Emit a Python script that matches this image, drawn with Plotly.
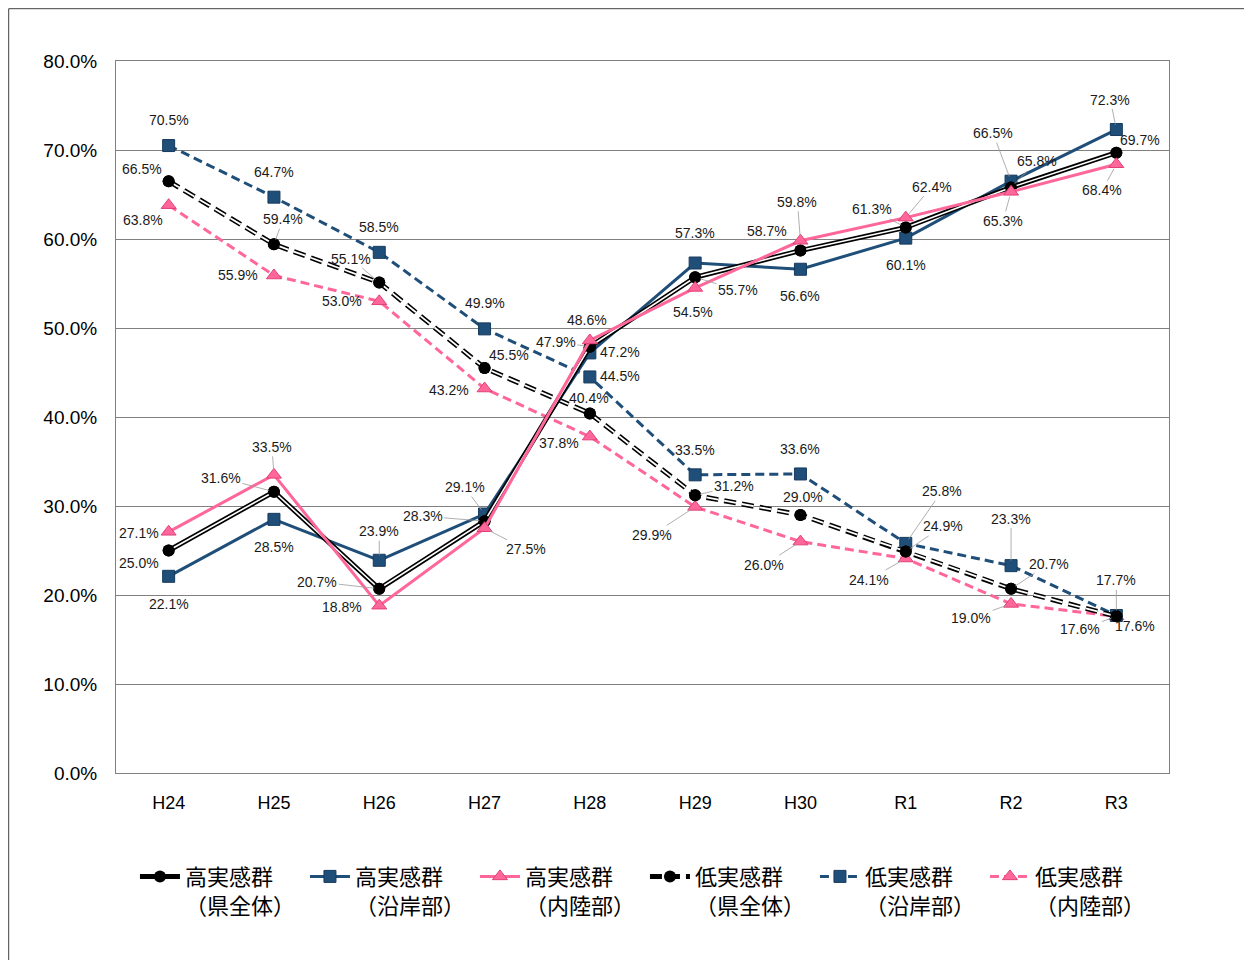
import plotly.graph_objects as go

categories = ["H24", "H25", "H26", "H27", "H28", "H29", "H30", "R1", "R2", "R3"]

high_pref = [25.0, 31.6, 20.7, 28.3, 47.9, 55.7, 58.7, 61.3, 65.8, 69.7]
high_coast = [22.1, 28.5, 23.9, 29.1, 47.2, 57.3, 56.6, 60.1, 66.5, 72.3]
high_inland = [27.1, 33.5, 18.8, 27.5, 48.6, 54.5, 59.8, 62.4, 65.3, 68.4]
low_pref = [66.5, 59.4, 55.1, 45.5, 40.4, 31.2, 29.0, 24.9, 20.7, 17.6]
low_coast = [70.5, 64.7, 58.5, 49.9, 44.5, 33.5, 33.6, 25.8, 23.3, 17.7]
low_inland = [63.8, 55.9, 53.0, 43.2, 37.8, 29.9, 26.0, 24.1, 19.0, 17.6]

names = ["高実感群<br>（県全体）", "高実感群<br>（沿岸部）", "高実感群<br>（内陸部）",
         "低実感群<br>（県全体）", "低実感群<br>（沿岸部）", "低実感群<br>（内陸部）"]

# label offsets (px) and leader-line flags — styling only
off_high_pref = [(-30, 12), (-53, -14), (-62, -7), (-62, -5), (-34, -5), (43, 13), (-33, -20), (-34, -18), (26, -26), (24, -13)]
lead_high_pref = [0, 1, 1, 1, 1, 1, 0, 1, 1, 0]
off_high_coast = [(0, 28), (0, 28), (0, -29), (-20, -27), (30, -1), (0, -30), (0, 27), (0, 27), (-18, -48), (-6, -30)]
lead_high_coast = [0, 0, 1, 1, 0, 0, 0, 0, 1, 1]
off_high_inland = [(-30, 1), (-2, -28), (-37, 1), (41, 21), (-3, -20), (-2, 24), (-3, -39), (26, -31), (-8, 29), (-14, 26)]
lead_high_inland = [0, 1, 0, 1, 0, 0, 1, 1, 1, 1]
off_low_pref = [(-27, -12), (9, -25), (-28, -24), (24, -13), (-1, -15), (39, -9), (3, -18), (37, -25), (38, -25), (19, 10)]
lead_low_pref = [0, 1, 1, 0, 0, 1, 0, 1, 1, 1]
off_low_coast = [(0, -26), (0, -25), (0, -25), (0, -26), (30, -1), (0, -25), (0, -25), (36, -52), (0, -47), (0, -35)]
lead_low_coast = [0, 0, 0, 0, 0, 0, 0, 1, 1, 1]
off_low_inland = [(-26, 15), (-36, 0), (-37, 0), (-36, 1), (-31, 6), (-43, 28), (-36, 23), (-37, 21), (-40, 14), (-36, 13)]
lead_low_inland = [0, 0, 0, 0, 0, 1, 1, 1, 1, 1]

NAVY = "#1F4E79"
PINK = "#FF6699"
FONT = "Liberation Sans, Arial, Noto Sans CJK JP, sans-serif"

fig = go.Figure()

# Low series (dashed)
fig.add_trace(go.Scatter(x=categories, y=low_inland, name=names[5], mode="lines+markers",
                         line=dict(color=PINK, width=3, dash="9px,5px"),
                         marker=dict(symbol="triangle-up", size=13, color=PINK, line=dict(color="#E0407A", width=1)),
                         legendrank=6))
fig.add_trace(go.Scatter(x=categories, y=low_coast, name=names[4], mode="lines+markers",
                         line=dict(color=NAVY, width=3, dash="9px,5px"),
                         marker=dict(symbol="square", size=12, color=NAVY, line=dict(color="#173a5c", width=1)),
                         legendrank=5))
fig.add_trace(go.Scatter(x=categories, y=low_pref, name=names[3], mode="lines+markers",
                         line=dict(color="black", width=5, dash="12px,6px"),
                         marker=dict(symbol="circle", size=12, color="black"),
                         legendrank=4))
fig.add_trace(go.Scatter(x=categories, y=low_pref, mode="lines", showlegend=False, hoverinfo="skip",
                         line=dict(color="white", width=1.8, dash="12px,6px")))
fig.add_trace(go.Scatter(x=categories, y=low_pref, mode="markers", showlegend=False, hoverinfo="skip",
                         marker=dict(symbol="circle", size=12, color="black")))

# High series (solid)
fig.add_trace(go.Scatter(x=categories, y=high_coast, name=names[1], mode="lines+markers",
                         line=dict(color=NAVY, width=3),
                         marker=dict(symbol="square", size=12, color=NAVY, line=dict(color="#173a5c", width=1)),
                         legendrank=2))
fig.add_trace(go.Scatter(x=categories, y=high_pref, name=names[0], mode="lines+markers",
                         line=dict(color="black", width=5),
                         marker=dict(symbol="circle", size=12, color="black"),
                         legendrank=1))
fig.add_trace(go.Scatter(x=categories, y=high_pref, mode="lines", showlegend=False, hoverinfo="skip",
                         line=dict(color="white", width=1.6)))
fig.add_trace(go.Scatter(x=categories, y=high_pref, mode="markers", showlegend=False, hoverinfo="skip",
                         marker=dict(symbol="circle", size=12, color="black")))
fig.add_trace(go.Scatter(x=categories, y=high_inland, name=names[2], mode="lines+markers",
                         line=dict(color=PINK, width=3),
                         marker=dict(symbol="triangle-up", size=13, color=PINK, line=dict(color="#E0407A", width=1)),
                         legendrank=3))

annotations = []
series = [
    (high_pref, off_high_pref, lead_high_pref),
    (high_coast, off_high_coast, lead_high_coast),
    (high_inland, off_high_inland, lead_high_inland),
    (low_pref, off_low_pref, lead_low_pref),
    (low_coast, off_low_coast, lead_low_coast),
    (low_inland, off_low_inland, lead_low_inland),
]
for vals, offs, leads in series:
    for c, v, (dx, dy), ld in zip(categories, vals, offs, leads):
        annotations.append(dict(
            x=c, y=v, xref="x", yref="y", text=f"{v:.1f}%",
            showarrow=True, ax=dx, ay=dy, axref="pixel", ayref="pixel",
            arrowhead=0, arrowwidth=0.8, standoff=5,
            arrowcolor="#9a9a9a" if ld else "rgba(0,0,0,0)",
            font=dict(family=FONT, size=14, color="#1a1a1a"),
        ))

fig.update_layout(
    width=1244, height=952,
    margin=dict(l=108, r=83, t=53, b=187, autoexpand=False),
    paper_bgcolor="white", plot_bgcolor="white",
    font=dict(family=FONT, color="black"),
    annotations=annotations,
    showlegend=True,
    legend=dict(orientation="h", x=0.018, xanchor="left", y=-0.116, yanchor="top",
                entrywidth=115, entrywidthmode="pixels", valign="top",
                font=dict(family="Noto Sans CJK JP, sans-serif", size=22, color="black"),
                itemwidth=40, tracegroupgap=0, traceorder="normal"),
    shapes=[dict(type="rect", xref="paper", yref="paper",
                 x0=-107.3 / 1053, x1=1.5, y0=-0.6, y1=1 + 52.3 / 712,
                 line=dict(color="#404040", width=1), layer="below")],
)

fig.update_xaxes(type="category", range=[-0.5, 9.5], showgrid=False,
                 showline=True, linecolor="#808080", linewidth=1, mirror=True,
                 ticks="", tickfont=dict(family=FONT, size=18, color="black"),
                 ticklabelstandoff=13)
fig.update_yaxes(range=[0, 80], dtick=10, tickformat=".1f", ticksuffix="%",
                 showgrid=True, gridcolor="#808080", gridwidth=1,
                 showline=True, linecolor="#808080", linewidth=1, mirror=True,
                 zeroline=False, ticks="", tickfont=dict(family=FONT, size=19, color="black"),
                 ticklabelstandoff=14)

fig.write_html("out.html")
